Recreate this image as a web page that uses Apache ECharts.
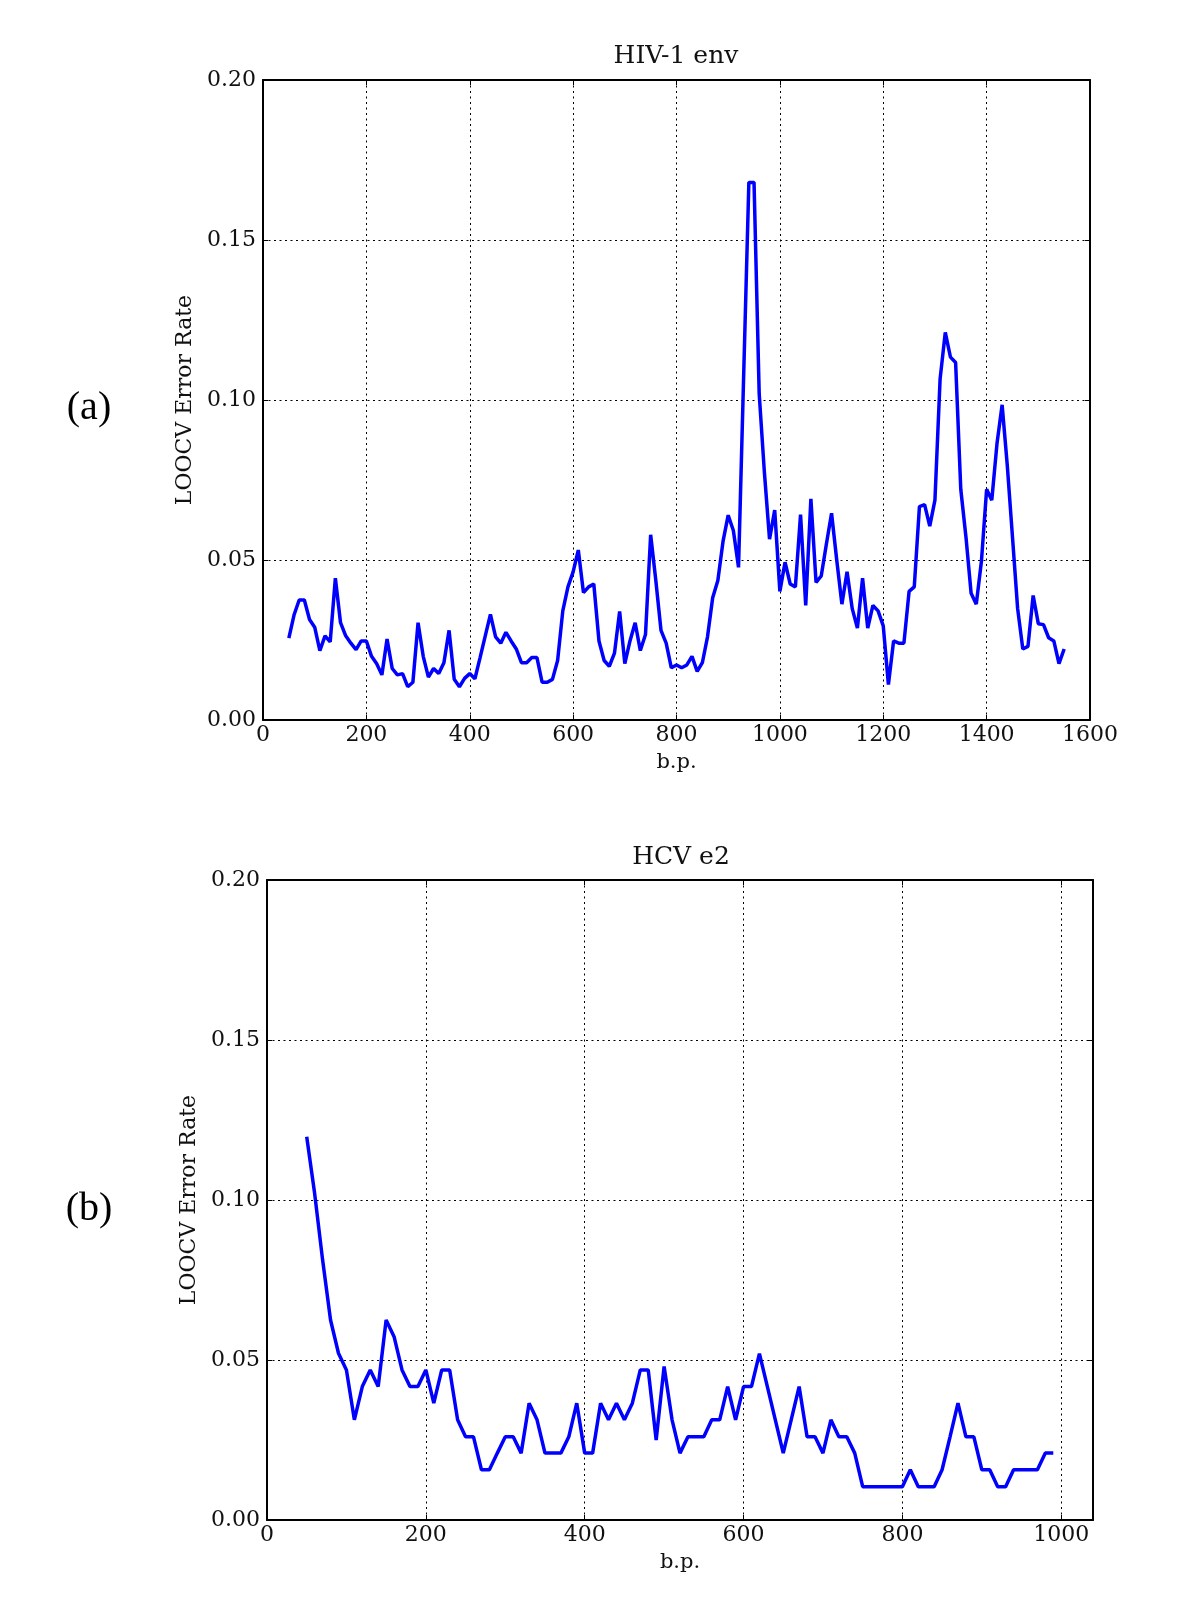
<!DOCTYPE html>
<html>
<head>
<meta charset="utf-8">
<script src="https://cdn.jsdelivr.net/npm/echarts@6/dist/echarts.min.js"></script>
<style>html,body{margin:0;padding:0;background:#fff}#c{width:1200px;height:1600px}</style>
</head>
<body>
<div id="c"></div>
<script>
const hivX = [50,60,70,80,90,100,110,120,130,140,150,160,170,180,190,200,210,220,230,240,250,260,270,280,290,300,310,320,330,340,350,360,370,380,390,400,410,420,430,440,450,460,470,480,490,500,510,520,530,540,550,560,570,580,590,600,610,620,630,640,650,660,670,680,690,700,710,720,730,740,750,760,770,780,790,800,810,820,830,840,850,860,870,880,890,900,910,920,930,940,950,960,970,980,990,1000,1010,1020,1030,1040,1050,1060,1070,1080,1090,1100,1110,1120,1130,1140,1150,1160,1170,1180,1190,1200,1210,1220,1230,1240,1250,1260,1270,1280,1290,1300,1310,1320,1330,1340,1350,1360,1370,1380,1390,1400,1410,1420,1430,1440,1450,1460,1470,1480,1490,1500,1510,1520,1530,1540,1550];
const hivY = [0.0256,0.0328,0.0375,0.0375,0.0314,0.029,0.0217,0.0263,0.0244,0.0443,0.0304,0.0263,0.024,0.022,0.0247,0.0247,0.0199,0.0176,0.0141,0.0253,0.0161,0.0141,0.0145,0.0104,0.0118,0.0304,0.0199,0.0134,0.0161,0.0145,0.0179,0.028,0.0127,0.0104,0.013,0.0145,0.0129,0.0195,0.0263,0.033,0.026,0.024,0.0274,0.0247,0.0222,0.0179,0.0179,0.0195,0.0195,0.0118,0.0118,0.0127,0.0186,0.0341,0.0416,0.0463,0.0531,0.0398,0.0416,0.0425,0.0247,0.0186,0.0168,0.0209,0.0339,0.0176,0.0247,0.0304,0.0217,0.0267,0.0579,0.0436,0.028,0.024,0.0163,0.0172,0.0163,0.0172,0.0199,0.0152,0.0179,0.026,0.0382,0.0436,0.0558,0.064,0.0592,0.0477,0.108,0.168,0.168,0.1019,0.0775,0.0565,0.0656,0.0402,0.0493,0.0425,0.0416,0.0642,0.0358,0.0691,0.043,0.045,0.055,0.0646,0.05,0.0362,0.0463,0.0348,0.0287,0.0443,0.0287,0.0358,0.0341,0.0294,0.0111,0.0247,0.024,0.024,0.0402,0.0416,0.0667,0.0673,0.0606,0.0687,0.1066,0.1211,0.1134,0.1117,0.0721,0.0572,0.0396,0.0362,0.0497,0.0721,0.0687,0.0863,0.0985,0.0795,0.0572,0.0348,0.0222,0.023,0.0389,0.0301,0.0298,0.0257,0.0247,0.0176,0.0222];

const hcvX = [50,60,70,80,90,100,110,120,130,140,150,160,170,180,190,200,210,220,230,240,250,260,270,280,290,300,310,320,330,340,350,360,370,380,390,400,410,420,430,440,450,460,470,480,490,500,510,520,530,540,550,560,570,580,590,600,610,620,630,640,650,660,670,680,690,700,710,720,730,740,750,760,770,780,790,800,810,820,830,840,850,860,870,880,890,900,910,920,930,940,950,960,970,980,990];
const hcvY = [0.1198,0.102,0.0813,0.0625,0.0521,0.0469,0.0313,0.0417,0.0469,0.0417,0.0625,0.0573,0.0469,0.0417,0.0417,0.0469,0.0365,0.0469,0.0469,0.0313,0.026,0.026,0.0157,0.0157,0.0209,0.026,0.026,0.0209,0.0365,0.0313,0.0209,0.0209,0.0209,0.026,0.0365,0.0209,0.0209,0.0365,0.0313,0.0365,0.0313,0.0365,0.0469,0.0469,0.025,0.048,0.0313,0.0209,0.026,0.026,0.026,0.0313,0.0313,0.0417,0.0313,0.0417,0.0417,0.052,0.0417,0.0313,0.0209,0.0313,0.0417,0.026,0.026,0.0209,0.0313,0.026,0.026,0.0209,0.0104,0.0104,0.0104,0.0104,0.0104,0.0104,0.0157,0.0104,0.0104,0.0104,0.0157,0.026,0.0365,0.026,0.026,0.0157,0.0157,0.0104,0.0104,0.0157,0.0157,0.0157,0.0157,0.0209,0.0209];

const titles = ['HIV-1 env', 'HCV e2'];
const panelLabels = ['(a)', '(b)'];
const xLabel = 'b.p.';
const yLabel = 'LOOCV Error Rate';

const serif = 'DejaVu Serif';
const ink = '#111';
const gridLine = { show: true, lineStyle: { color: '#000', width: 1, type: [2, 3.5] } };
const axLine = { show: true, onZero: false, lineStyle: { color: '#000', width: 2 } };
const tick = { show: true, inside: true, length: 5, lineStyle: { color: '#000', width: 1 } };

function xAxes(gi, max) {
  return [
    { gridIndex: gi, type: 'value', position: 'bottom', min: 0, max: max, interval: 200,
      axisLine: axLine, axisTick: tick, splitLine: gridLine,
      axisLabel: { fontFamily: serif, fontSize: 22, color: ink, margin: 4, showMaxLabel: max === 1600,
        formatter: v => String(v) },
      name: xLabel, nameLocation: 'middle', nameGap: 32,
      nameTextStyle: { fontFamily: serif, fontSize: 21, color: ink } },
    { gridIndex: gi, type: 'value', position: 'top', min: 0, max: max, interval: 200,
      axisLine: axLine, axisTick: tick, splitLine: { show: false }, axisLabel: { show: false } }
  ];
}
function yAxes(gi) {
  return [
    { gridIndex: gi, type: 'value', position: 'left', min: 0, max: 0.2, interval: 0.05,
      axisLine: axLine, axisTick: tick, splitLine: gridLine,
      axisLabel: { fontFamily: serif, fontSize: 22, color: ink, margin: 7, formatter: v => v.toFixed(2) },
      name: yLabel, nameLocation: 'middle', nameGap: 60, nameRotate: 90,
      nameTextStyle: { fontFamily: serif, fontSize: 22, color: ink } },
    { gridIndex: gi, type: 'value', position: 'right', min: 0, max: 0.2, interval: 0.05,
      axisLine: axLine, axisTick: tick, splitLine: { show: false }, axisLabel: { show: false } }
  ];
}

const chart = echarts.init(document.getElementById('c'), null, { renderer: 'canvas' });
chart.setOption({
  backgroundColor: '#fff',
  animation: false,
  grid: [
    { left: 263, width: 827, top: 80, height: 640 },
    { left: 267, width: 826, top: 880, height: 640 }
  ],
  xAxis: [...xAxes(0, 1600), ...xAxes(1, 1040)],
  yAxis: [...yAxes(0), ...yAxes(1)],
  series: [
    { type: 'line', xAxisIndex: 0, yAxisIndex: 0, showSymbol: false, symbol: 'none',
      lineStyle: { color: '#0000ff', width: 3.5 }, itemStyle: { color: '#0000ff' },
      data: hivX.map((x, i) => [x, hivY[i]]) },
    { type: 'line', xAxisIndex: 2, yAxisIndex: 2, showSymbol: false, symbol: 'none',
      lineStyle: { color: '#0000ff', width: 3.5 }, itemStyle: { color: '#0000ff' },
      data: hcvX.map((x, i) => [x, hcvY[i]]) }
  ],
  graphic: [
    { type: 'text', x: 676, y: 56, style: { text: titles[0], font: '25px "DejaVu Serif"', fill: ink, textAlign: 'center', textVerticalAlign: 'middle' } },
    { type: 'text', x: 681, y: 857, style: { text: titles[1], font: '25px "DejaVu Serif"', fill: ink, textAlign: 'center', textVerticalAlign: 'middle' } },
    { type: 'text', x: 89, y: 408, style: { text: panelLabels[0], font: '40px "Liberation Serif"', fill: '#000', textAlign: 'center', textVerticalAlign: 'middle' } },
    { type: 'text', x: 89, y: 1209, style: { text: panelLabels[1], font: '40px "Liberation Serif"', fill: '#000', textAlign: 'center', textVerticalAlign: 'middle' } }
  ]
});
</script>
</body>
</html>
